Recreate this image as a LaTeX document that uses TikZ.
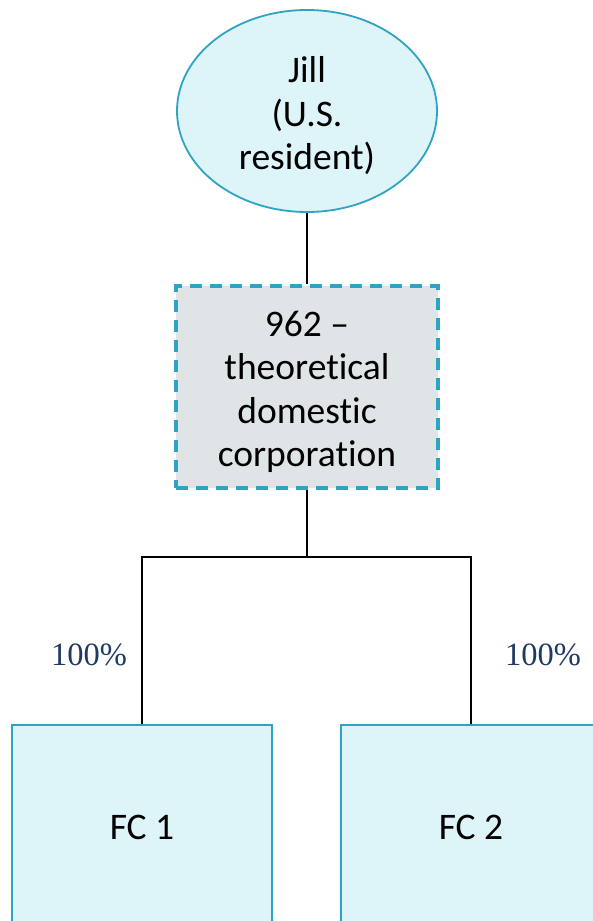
\documentclass[tikz,border=0pt]{standalone}
\usepackage{fontspec}
\setmainfont[Ligatures=NoCommon]{Carlito}
\newfontfamily\pctfont{Liberation Serif}
\usetikzlibrary{shapes.geometric}
\definecolor{edgeblue}{HTML}{2EA3C2}
\definecolor{lightcyan}{HTML}{DDF4F9}
\definecolor{paleslate}{HTML}{DFE5E6}
\definecolor{navytext}{HTML}{1F3864}
\tikzset{
  x=1pt, y=1pt,
  person/.style={ellipse, draw=edgeblue, line width=1.8pt, fill=lightcyan,
    minimum width=260pt, minimum height=202pt, inner sep=0pt},
  entity/.style={rectangle, draw=edgeblue, line width=3.2pt, dash pattern=on 12pt off 8pt,
    fill=paleslate, minimum width=262pt, minimum height=202pt, inner sep=0pt},
  subbox/.style={rectangle, draw=edgeblue, line width=1.8pt, fill=lightcyan,
    minimum width=260pt, minimum height=204pt, inner sep=0pt,
    font=\fontsize{37.5}{44}\selectfont},
  boxtext/.style={align=center, inner sep=0pt, font=\fontsize{37.5}{43.5}\selectfont},
  link/.style={draw=black, line width=2.2pt},
  pct/.style={text=navytext, font=\pctfont\fontsize{32.5}{38}\selectfont, inner sep=0pt}
}
\begin{document}
\begin{tikzpicture}
  \useasboundingbox (0,0) rectangle (593,-921);
  % ownership chain
  \node[person] (jill) at (307,-111) {};
  \node[boxtext] (jilltext) at ([yshift=-5pt]jill.center) {Jill\\(U.S.\\resident)};
  \node[entity] (corp) at (307,-387) {};
  \node[boxtext] (corptext) at ([yshift=-5pt]corp.center) {962 --\\theoretical\\domestic\\corporation};
  \node[subbox] (fc1) at (142,-827) {FC 1};
  \node[subbox] (fc2) at (471,-827) {FC 2};
  \coordinate (bus) at (307,-557);
  % connectors
  \draw[link] (jill.south) -- (corp.north);
  \draw[link] (corp.south) -- (bus);
  \draw[link] (fc1.north) |- (bus) -| (fc2.north);
  % ownership percentages
  \node[pct] (p1) at (89,-655) {100\%};
  \node[pct] (p2) at (543,-655) {100\%};
\end{tikzpicture}
\end{document}
